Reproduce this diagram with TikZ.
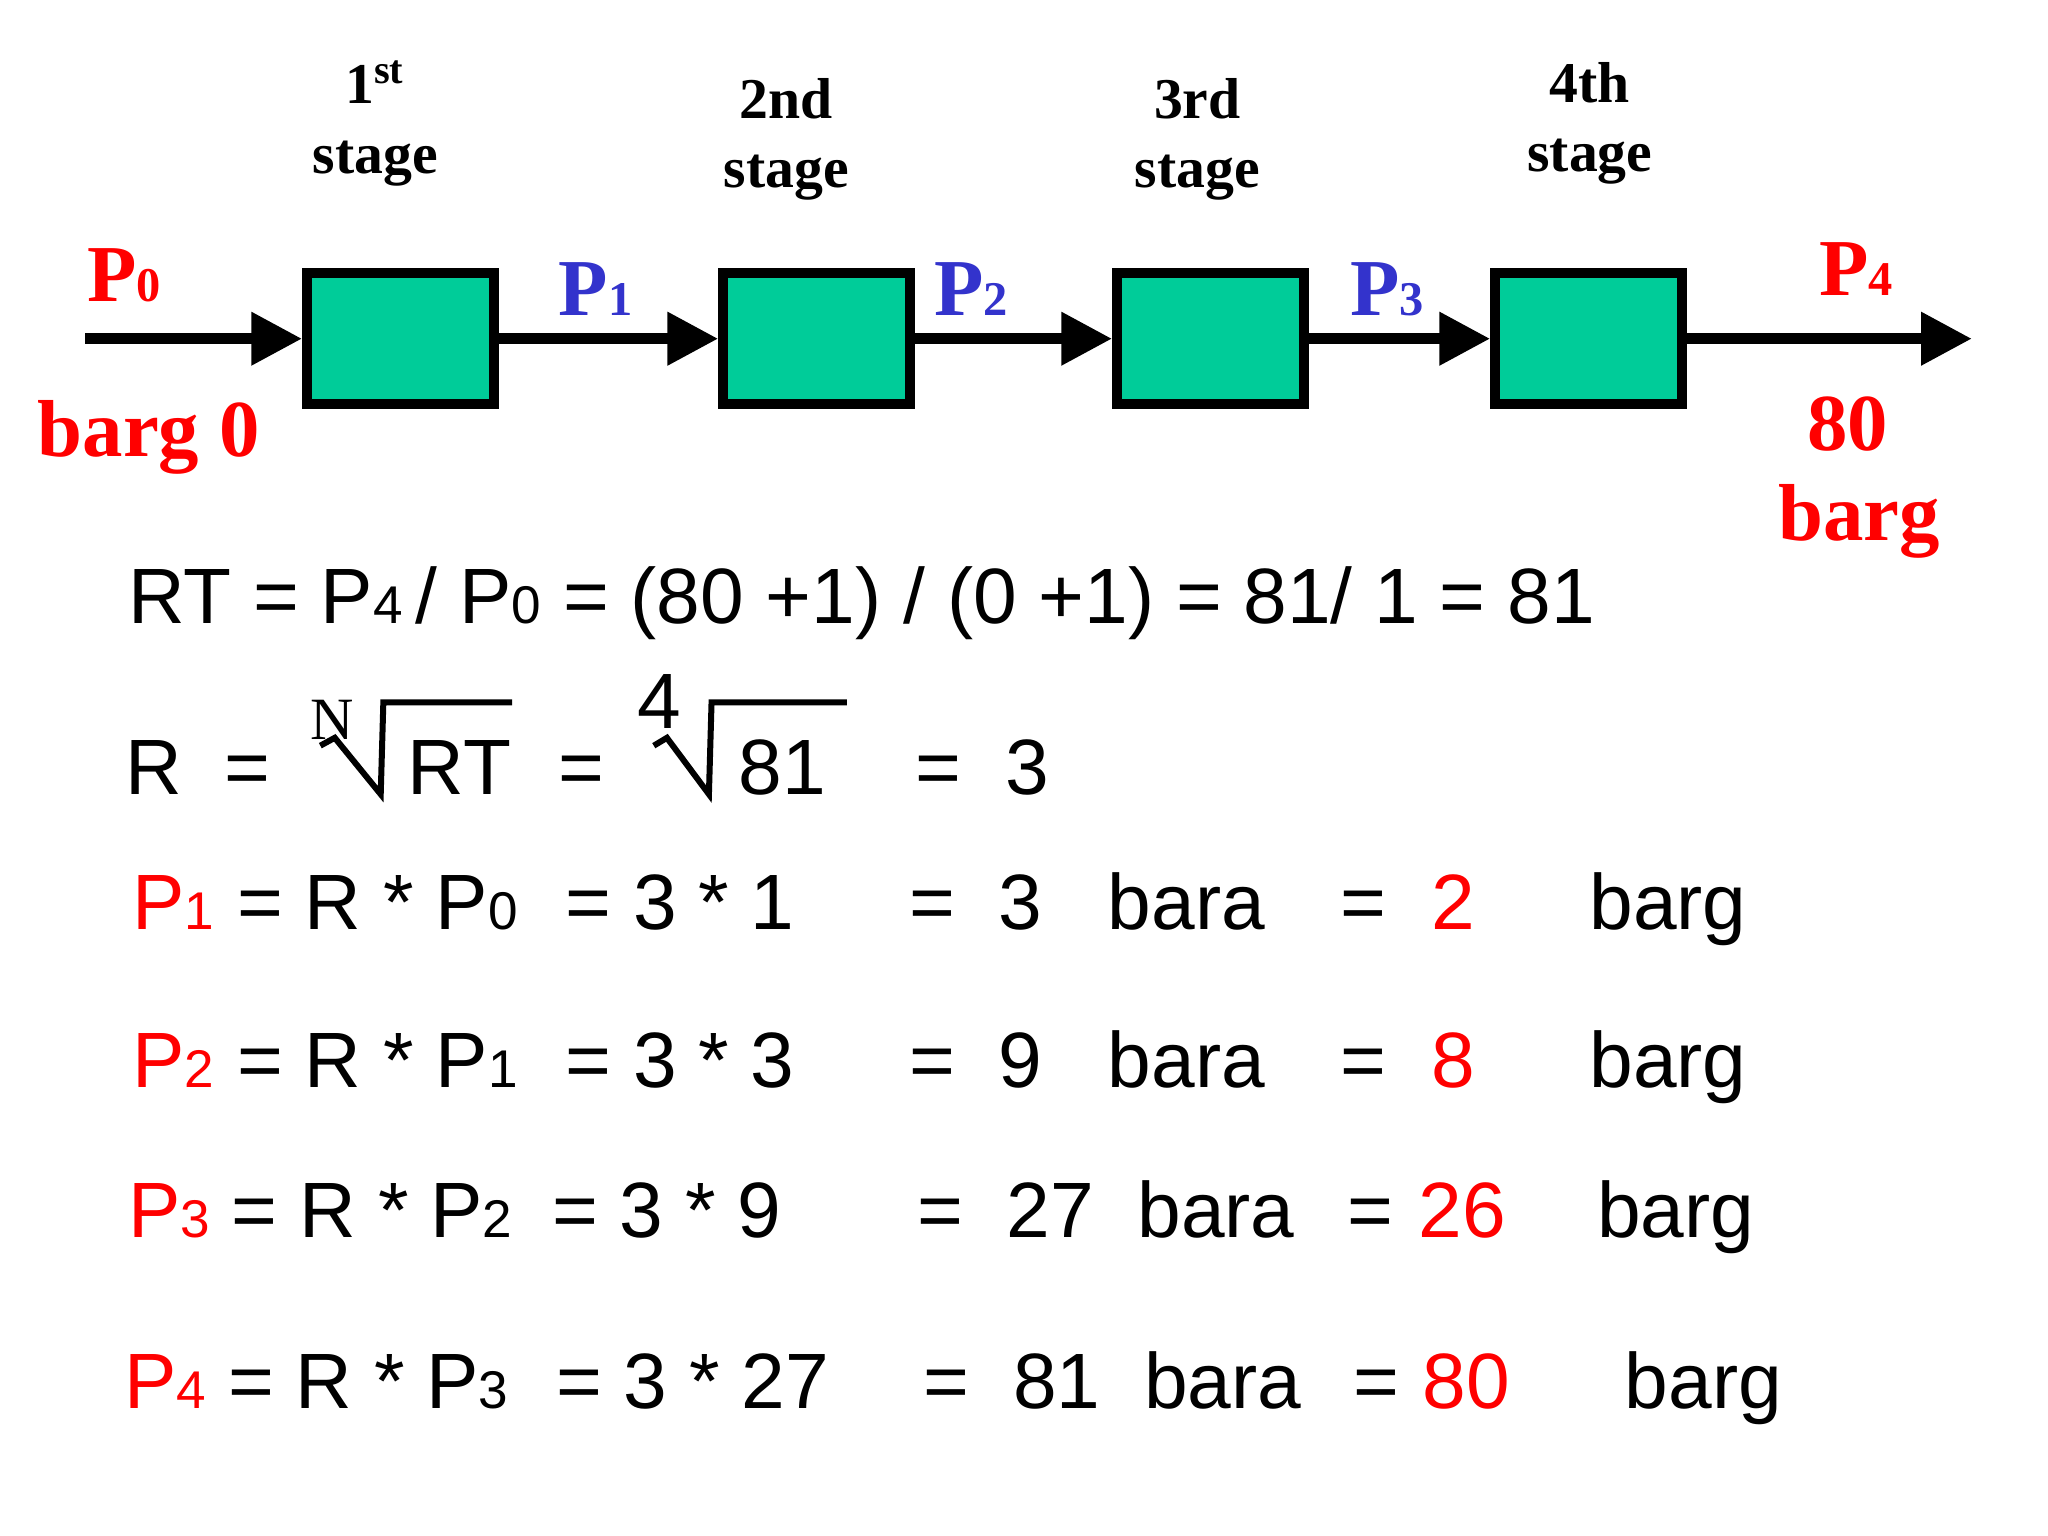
\documentclass[tikz,border=0pt]{standalone}
\usepackage{fontspec}
\setmainfont{Liberation Serif}
\newfontfamily\arial{Liberation Sans}
\usetikzlibrary{arrows.meta}
\definecolor{boxg}{RGB}{0,204,153}
\definecolor{myred}{RGB}{255,0,0}
\definecolor{myblue}{RGB}{51,51,204}
\newcommand\Pb[1]{P{\fontsize{10.5}{11}\selectfont #1}}
\newcommand\Pa[1]{P{\fontsize{11.5}{12}\selectfont #1}}
\begin{document}
\begin{tikzpicture}[x=0.01cm,y=-0.01cm,
  t/.style={inner sep=0,anchor=base west},
  eq/.style={t,font=\arial\fontsize{17}{20}\selectfont},
  st/.style={align=center,inner sep=0,font=\bfseries\fontsize{12.5}{15}\selectfont},
  big/.style={t,font=\bfseries\fontsize{17.5}{20}\selectfont},
  stagebox/.style={draw=black,line width=2.2pt,fill=boxg,minimum width=1.42cm,minimum height=1.0cm},
  flow/.style={line width=2.4pt,-{Triangle[length=11pt,width=11pt]}}]
\useasboundingbox (0,0) rectangle (1560,1170);
\coordinate (in) at (65,258);
\coordinate (out) at (1502,258);
\node[stagebox] (s1) at (305,258) {};
\node[stagebox] (s2) at (622,258) {};
\node[stagebox] (s3) at (922,258) {};
\node[stagebox] (s4) at (1210,258) {};
\draw[flow] (in) -- (s1.west);
\draw[flow] (s1.east) -- (s2.west);
\draw[flow] (s2.east) -- (s3.west);
\draw[flow] (s3.east) -- (s4.west);
\draw[flow] (s4.east) -- (out);
\node[st] (l1) at (286,94) {1\textsuperscript{st}\\stage};
\node[st] (l2) at (599,106) {2nd\\stage};
\node[st] (l3) at (912,106) {3rd\\stage};
\node[st] (l4) at (1211,94) {4th\\stage};
\node[big,myred] (p0) at (66,230) {\Pb0};
\node[big,myblue] (p1) at (425,240) {\Pb1};
\node[big,myblue] (p2) at (711,240) {\Pb2};
\node[big,myblue] (p3) at (1028,240) {\Pb3};
\node[big,myred] (p4) at (1385,225) {\Pb4};
\node[big,myred] (bg0) at (28,348) {barg 0};
\node[big,myred] (b80) at (1376,343) {80};
\node[big,myred] (b80b) at (1354,412) {barg};
\node[eq] (rt) at (97,475) {RT = \Pa4\,/ \Pa0 = (80 +1) / (0 +1) = 81/ 1 = 81};
\node[eq] (r) at (95,605) {R};
\node[eq] (e1) at (170,605) {=};
\node[t,font=\fontsize{13}{13}\selectfont] (n) at (236,563) {N};
\draw[line width=1.3pt] (244,568) -- (255,562) -- (290,605) -- (292,535) -- (390,535);
\node[eq] (rtx) at (310,605) {RT};
\node[eq] (e2) at (425,605) {=};
\node[eq] (four) at (485,555) {4};
\draw[line width=1.3pt] (498,568) -- (508,562) -- (540,605) -- (542,535) -- (645,535);
\node[eq] (e81) at (562,605) {81};
\node[eq] (e3) at (697,605) {=};
\node[eq] (three) at (765,605) {3};
\node[eq] (a1) at (100,708) {\textcolor{myred}{\Pa1}};
\node[eq] (a1b) at (180,708) {= R * \Pa0};
\node[eq] (a1c) at (430,708) {= 3 * 1};
\node[eq] (a1d) at (692,708) {=\ \ 3\ \ \ bara};
\node[eq] (a1e) at (1020,708) {=};
\node[eq,myred] (a1f) at (1090,708) {2};
\node[eq] (a1g) at (1210,708) {barg};
\node[eq] (a2) at (100,828) {\textcolor{myred}{\Pa2}};
\node[eq] (a2b) at (180,828) {= R * \Pa1};
\node[eq] (a2c) at (430,828) {= 3 * 3};
\node[eq] (a2d) at (692,828) {=\ \ 9\ \ \ bara};
\node[eq] (a2e) at (1020,828) {=};
\node[eq,myred] (a2f) at (1090,828) {8};
\node[eq] (a2g) at (1210,828) {barg};
\node[eq] (a3) at (97,943) {\textcolor{myred}{\Pa3}};
\node[eq] (a3b) at (176,943) {= R * \Pa2};
\node[eq] (a3c) at (420,943) {= 3 * 9};
\node[eq] (a3d) at (698,943) {=\ \ 27\ \ bara};
\node[eq] (a3e) at (1026,943) {=};
\node[eq,myred] (a3f) at (1080,943) {26};
\node[eq] (a3g) at (1216,943) {barg};
\node[eq] (a4) at (94,1073) {\textcolor{myred}{\Pa4}};
\node[eq] (a4b) at (173,1073) {= R * \Pa3};
\node[eq] (a4c) at (423,1073) {= 3 * 27};
\node[eq] (a4d) at (703,1073) {=\ \ 81\ \ bara};
\node[eq] (a4e) at (1030,1073) {=};
\node[eq,myred] (a4f) at (1083,1073) {80};
\node[eq] (a4g) at (1237,1073) {barg};
\end{tikzpicture}
\end{document}
